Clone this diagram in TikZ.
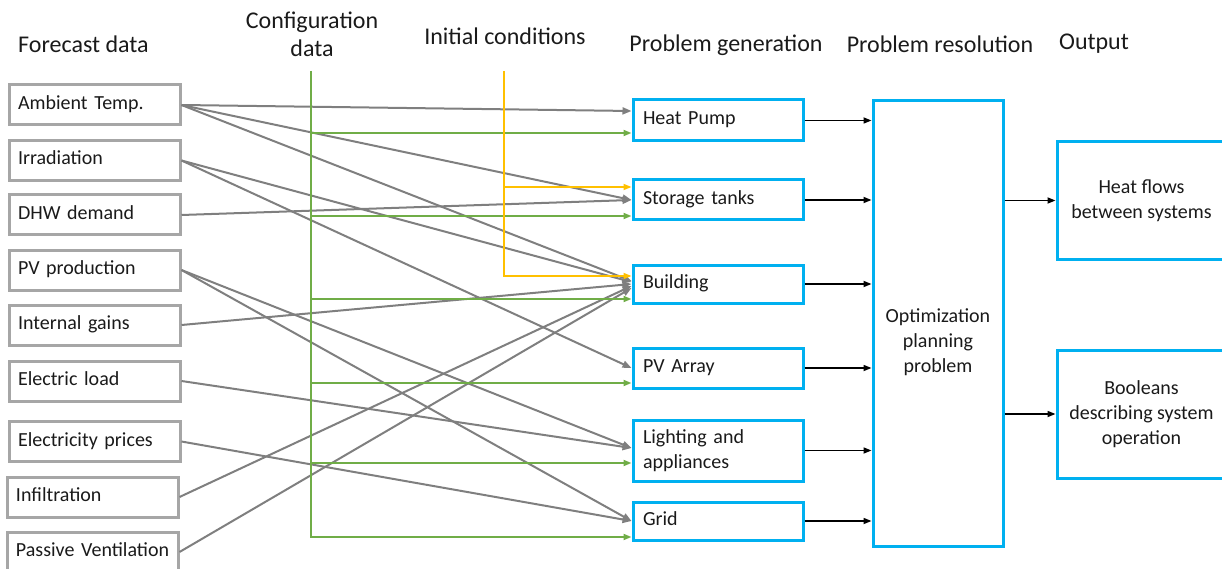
\documentclass[tikz,border=0pt]{standalone}
\usepackage{fontspec}
\setmainfont{Carlito}
\usetikzlibrary{arrows.meta,calc}
\definecolor{boxgray}{HTML}{A6A6A6}
\definecolor{linegray}{HTML}{7F7F7F}
\definecolor{cfggreen}{HTML}{70AD47}
\definecolor{initgold}{HTML}{FFC000}
\definecolor{modblue}{HTML}{00B0F0}
\definecolor{ink}{HTML}{1A1A1A}
\begin{document}
\begin{tikzpicture}[x=1pt,y=-1pt,
  font=\fontsize{20pt}{25pt}\selectfont, text=ink,
  head/.style={font=\fontsize{24pt}{28pt}\selectfont, align=center, inner sep=0pt},
  oneline/.style={text height=14pt, text depth=5pt},
  src/.style={draw=boxgray, line width=3pt, text width=153pt, align=left,
              inner xsep=9pt, inner ysep=0pt, minimum height=40pt, oneline},
  mod/.style={draw=modblue, line width=3pt, text width=150pt, align=left,
              inner xsep=10pt, inner ysep=0pt},
  outbox/.style={draw=modblue, line width=3pt, minimum width=169pt, align=center},
  gl/.style={draw=linegray, line width=2pt, -{Triangle[length=9pt,width=7pt]}},
  gn/.style={draw=cfggreen, line width=1.8pt, -{Triangle[length=8pt,width=6pt]}},
  yl/.style={draw=initgold, line width=1.6pt, -{Triangle[length=8pt,width=6pt]}},
  bk/.style={draw=black, line width=1.6pt, -{Triangle[length=8pt,width=6pt]}}]
\useasboundingbox (0,0) rectangle (1222,569);

% column headings
\node[head, anchor=west] (hForecast) at (18,44) {Forecast data};
\node[head] (hConfig) at (312,34) {Configuration\\data};
\node[head] (hInit) at (505,36) {Initial conditions};
\node[head] (hGen) at (726,45) {Problem generation};
\node[head] (hRes) at (940,44) {Problem resolution};
\node[head] (hOut) at (1094,44) {Output};

% forecast inputs
\node[src] (amb) at (94.5,105) {Ambient Temp.};
\node[src] (irr) at (94.5,160.5) {Irradiation};
\node[src] (dhw) at (94.5,215) {DHW demand};
\node[src] (pvp) at (94.5,270) {PV production};
\node[src] (ig) at (94.5,325) {Internal gains};
\node[src] (el) at (94.5,381) {Electric load};
\node[src] (ep) at (94.5,441.5) {Electricity prices};
\node[src] (inf) at (92.5,497) {Infiltration};
\node[src] (pvent) at (92.5,552) {\mbox{Passive Ventilation}};

% system models
\node[mod, oneline, minimum height=41pt] (hp) at (718,120.5) {Heat Pump};
\node[mod, oneline, minimum height=40pt] (st) at (718,200) {Storage tanks};
\node[mod, oneline, minimum height=38pt] (bd) at (718,284) {Building};
\node[mod, oneline, minimum height=40pt] (pv) at (718,368) {PV Array};
\node[mod, minimum height=61pt] (la) at (718,450.5) {Lighting and\\appliances};
\node[mod, oneline, minimum height=38pt] (gr) at (718,521) {Grid};

% optimisation block and results
\node[draw=modblue, line width=3pt, minimum width=130pt, minimum height=445pt] (opt) at (938,323.5) {};
\node[align=center] (optText) at (938,342) {Optimization\\planning\\problem};
\node[outbox, minimum height=117pt] (hf) at (1141.5,200.5) {Heat flows\\between systems};
\node[outbox, minimum height=128pt] (bo) at (1141.5,414) {Booleans\\describing system\\operation};

% forecast data feeding the models
\draw[gl] (amb.east) -- ([yshift=9.5pt]hp.west);
\draw[gl] (amb.east) -- (st.west);
\draw[gl] (amb.east) -- ([yshift=3pt]bd.west);
\draw[gl] (irr.east) -- ([yshift=2pt]bd.west);
\draw[gl] (irr.east) -- (pv.west);
\draw[gl] (dhw.east) -- (st.west);
\draw[gl] (pvp.east) -- ([yshift=2.5pt]la.west);
\draw[gl] (pvp.east) -- (gr.west);
\draw[gl] (ig.east) -- (bd.west);
\draw[gl] (el.east) -- ([yshift=2.5pt]la.west);
\draw[gl] (ep.east) -- (gr.west);
\draw[gl] (inf.east) -- ([yshift=-2pt]bd.west);
\draw[gl] (pvent.east) -- ([yshift=-4pt]bd.west);

% configuration data bus
\coordinate (gtop) at (311,71);
\coordinate (hpG) at ([yshift=-12.5pt]hp.west);
\coordinate (stG) at ([yshift=-16pt]st.west);
\coordinate (bdG) at ([yshift=-15pt]bd.west);
\coordinate (pvG) at ([yshift=-15pt]pv.west);
\coordinate (laG) at ([yshift=-12.5pt]la.west);
\coordinate (grG) at ([yshift=-16pt]gr.west);
\draw[gn] (gtop) |- (grG);
\foreach \t in {hpG,stG,bdG,pvG,laG}
  \draw[gn] (gtop |- \t) -- (\t);

% initial conditions bus
\coordinate (ytop) at (504,71);
\coordinate (stY) at ([yshift=13pt]st.west);
\coordinate (bdY) at ([yshift=8pt]bd.west);
\draw[yl] (ytop) |- (bdY);
\draw[yl] (ytop |- stY) -- (stY);

% models into the optimisation problem
\foreach \m in {hp,st,bd,pv,la,gr}
  \draw[bk] (\m.east) -- (opt.west |- \m.east);

% results
\draw[bk] (opt.east |- hf.west) -- (hf.west);
\draw[bk] (opt.east |- bo.west) -- (bo.west);
\end{tikzpicture}
\end{document}
